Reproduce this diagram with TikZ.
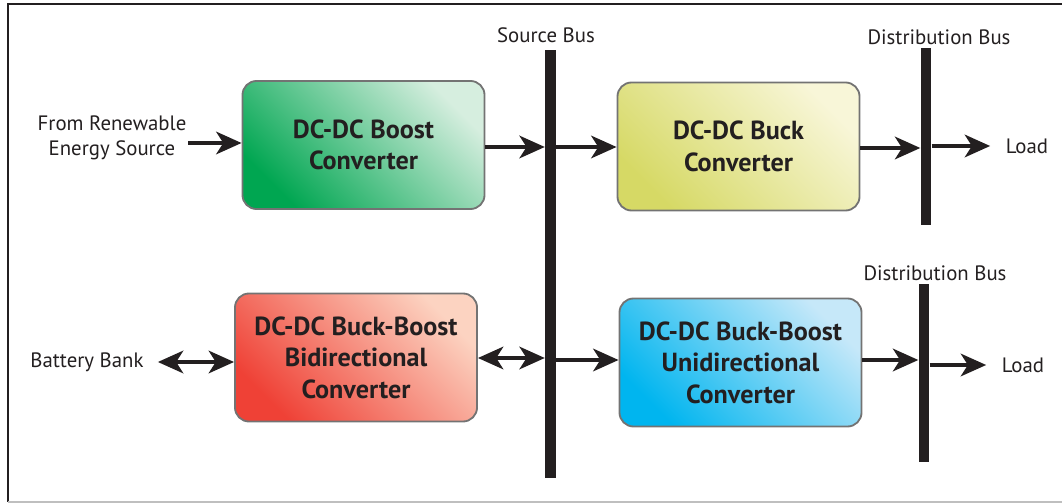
\documentclass[tikz,border=0pt]{standalone}
\usepackage{fontspec}
\setmainfont{PT Sans}
\usetikzlibrary{arrows.meta,positioning}

\definecolor{ink}{HTML}{231F20}
\definecolor{grnA}{HTML}{00A651}
\definecolor{grnB}{HTML}{D6EEDF}
\definecolor{ylwA}{HTML}{D6D965}
\definecolor{ylwB}{HTML}{F8F6D8}
\definecolor{redA}{HTML}{EF4136}
\definecolor{redB}{HTML}{FCD3C1}
\definecolor{bluA}{HTML}{00B5EF}
\definecolor{bluB}{HTML}{C6E8F9}

\begin{document}
\begin{tikzpicture}[x=0.025cm, y=-0.025cm,
  conv/.style={draw=black!55, line width=1.3pt, rounded corners=10pt, minimum width=6.05cm, minimum height=3.2cm,
    align=center, text=ink, font=\fontsize{18.6}{22.3}\selectfont\bfseries},
  bus/.style={fill=ink, inner sep=0pt, minimum width=0.27cm},
  lbl/.style={text=ink, align=center, inner sep=1pt, font=\fontsize{14.8}{17.8}\selectfont},
  flow/.style={draw=ink, line width=2.8pt, -{Stealth[length=18pt, width=16pt, inset=5pt]}},
  both/.style={flow, {Stealth[length=18pt, width=16pt, inset=5pt]}-{Stealth[length=18pt, width=16pt, inset=5pt]}}]
\useasboundingbox (0,0) rectangle (1062,503);
% outer frame
\draw[ink, line width=1.2pt] (1062,4) -- (8,4) -- (8,502);
\draw[black!25, line width=1.2pt] (8,502) -- (1062,502);

% converters
\node[conv, left color=grnA, right color=grnB, shading angle=135] (boost) at (363.5,145) {DC-DC Boost\\Converter};
\node[conv, left color=ylwA, right color=ylwB, shading angle=135] (buck) at (738.5,146.5) {DC-DC Buck\\Converter};
\node[conv, left color=redA, right color=redB, shading angle=135] (bidir) at (356,357.5) {DC-DC Buck-Boost\\Bidirectional\\Converter};
\node[conv, left color=bluA, right color=bluB, shading angle=135] (unidir) at (740.5,362.5) {DC-DC Buck-Boost\\Unidirectional\\Converter};

% buses
\node[bus, minimum height=10.7cm] (srcbus) at (550.5,264) {};
\node[bus, minimum height=4.43cm] (dbus1) at (926,136.5) {};
\node[bus, minimum height=4.45cm] (dbus2) at (924,373) {};
\node[lbl] at (546,35) {Source Bus};
\node[lbl] at (939,37) {Distribution Bus};
\node[lbl] at (935,273) {Distribution Bus};

% sources and loads
\node[lbl] (res) at (112,138) {From Renewable\\Energy Source};
\node[lbl] (batt) at (87,362) {Battery Bank};
\node[lbl] (load1) at (1027,146) {Load};
\node[lbl] (load2) at (1023,365) {Load};

% power flow
\draw[flow] (res.east |- 0,143) -- (boost.west |- 0,143);
\draw[flow] (boost.east |- 0,147) -- (srcbus.west |- 0,147);
\draw[flow] (srcbus.east |- 0,147) -- (buck.west |- 0,147);
\draw[flow] (buck.east |- 0,148) -- (dbus1.west |- 0,148);
\draw[flow, shorten >=10pt] (dbus1.east |- 0,146) -- (load1.west);
\draw[both, shorten <=9pt] (batt.east) -- (batt.east -| bidir.west);
\draw[both] (bidir.east |- 0,358) -- (srcbus.west |- 0,358);
\draw[flow] (srcbus.east |- 0,360) -- (unidir.west |- 0,360);
\draw[flow] (unidir.east |- 0,360) -- (dbus2.west |- 0,360);
\draw[flow, shorten >=10pt] (dbus2.east |- 0,365) -- (load2.west);
\end{tikzpicture}
\end{document}
